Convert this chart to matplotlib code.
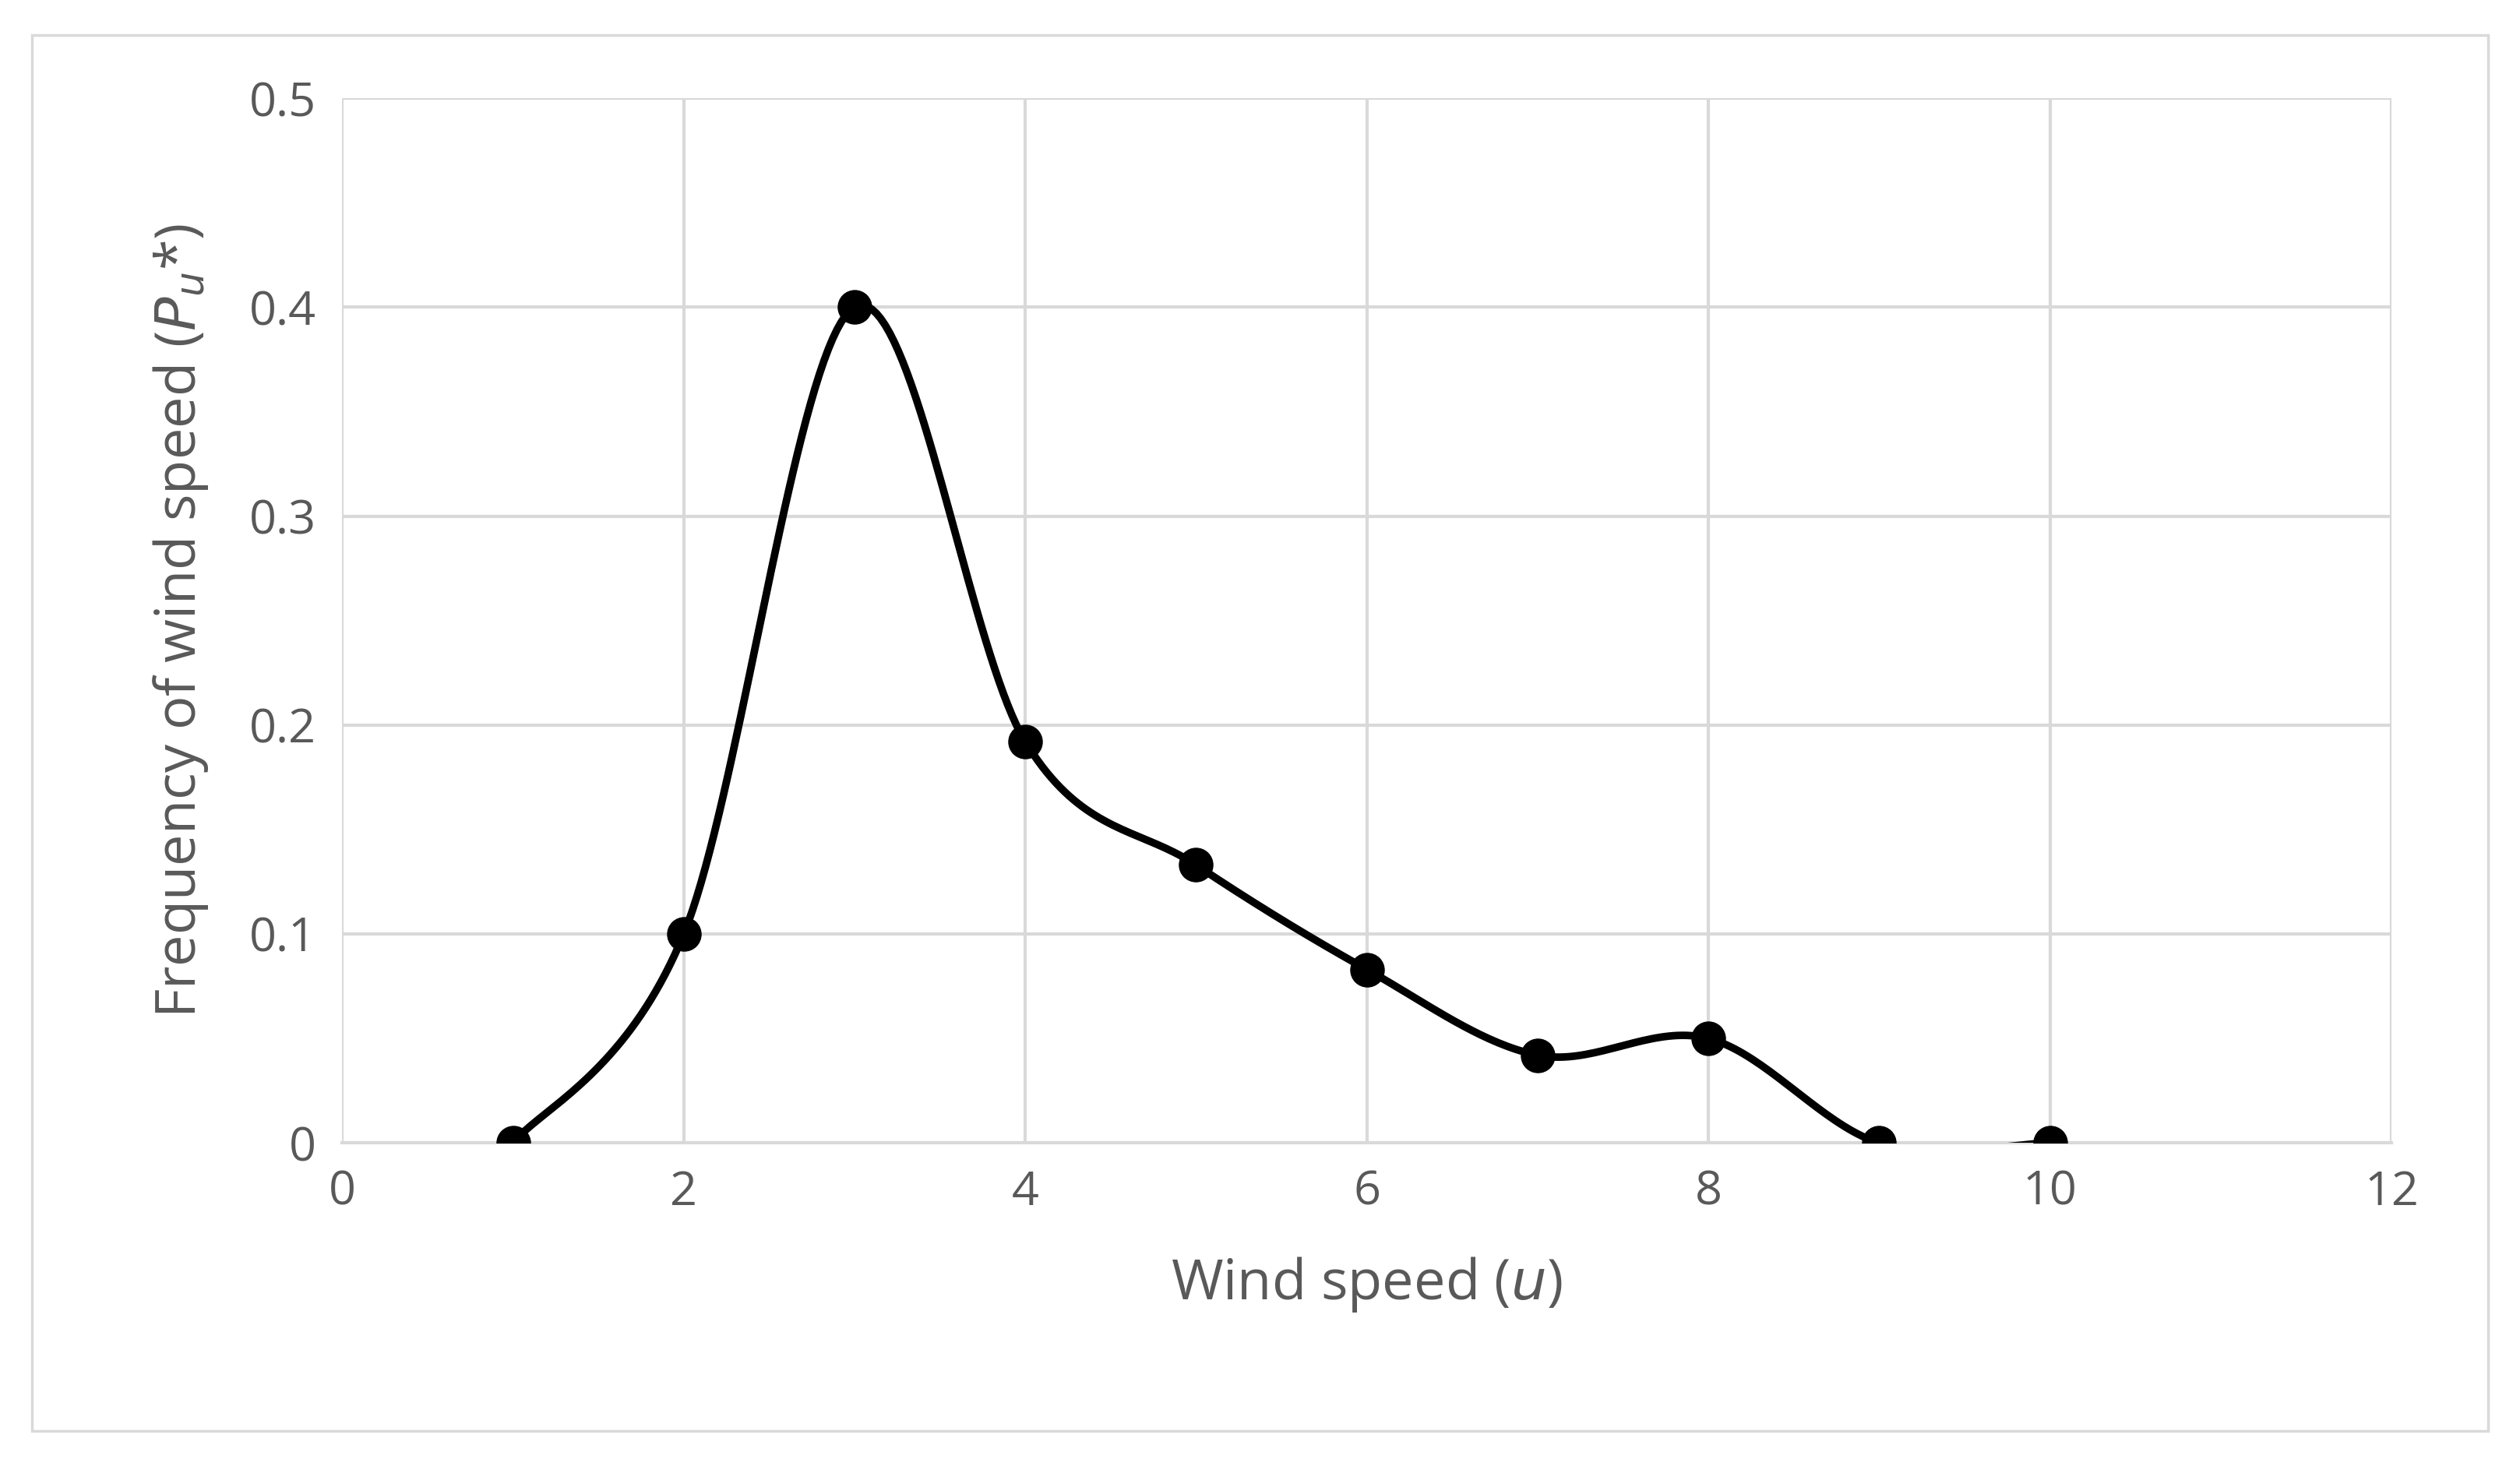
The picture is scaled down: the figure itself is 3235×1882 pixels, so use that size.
import matplotlib
matplotlib.use("Agg")
import matplotlib.pyplot as plt
import numpy as np
from matplotlib.patches import Rectangle

wind_speed = [1, 2, 3, 4, 5, 6, 7, 8, 9, 10]
frequency = [0.0, 0.1, 0.4, 0.192, 0.133, 0.083, 0.042, 0.05, 0.0, 0.0]

def smooth(x, y, n=40):
    x = np.asarray(x, float); y = np.asarray(y, float)
    px = np.concatenate([[x[0]], x, [x[-1]]]); py = np.concatenate([[y[0]], y, [y[-1]]])
    xs, ys = [], []
    t = np.linspace(0, 1, n)
    for i in range(1, len(px) - 2):
        p0 = np.array([px[i], py[i]]); p3 = np.array([px[i+1], py[i+1]])
        c1 = p0 + (np.array([px[i+1], py[i+1]]) - np.array([px[i-1], py[i-1]])) / 6
        c2 = p3 - (np.array([px[i+2], py[i+2]]) - np.array([px[i], py[i]])) / 6
        pts = ((1-t)**3)[:, None]*p0 + (3*(1-t)**2*t)[:, None]*c1 + (3*(1-t)*t**2)[:, None]*c2 + (t**3)[:, None]*p3
        xs.extend(pts[:, 0]); ys.extend(pts[:, 1])
    return xs, ys

plt.rcParams['font.family'] = ['Open Sans', 'DejaVu Sans']
gray = '#595959'
fig = plt.figure(figsize=(32.35, 18.82), dpi=100)
fig.patches.append(Rectangle((20/1568, 22/912), 1528/1568, 868/912, transform=fig.transFigure,
                             fill=False, edgecolor='#d9d9d9', linewidth=2.5))
ax = fig.add_axes([0.1358, 0.2204, 0.8132, 0.7126])
sx, sy = smooth(wind_speed, frequency)
ax.plot(sx, sy, color='black', linewidth=7, zorder=3)
ax.plot(wind_speed, frequency, 'o', color='black', markersize=31, zorder=4)
ax.set_xlim(0, 12); ax.set_ylim(0, 0.5)
ax.set_xticks(range(0, 13, 2)); ax.set_yticks([0, 0.1, 0.2, 0.3, 0.4, 0.5])
ax.set_yticklabels(['0', '0.1', '0.2', '0.3', '0.4', '0.5'])
ax.grid(True, color='#d9d9d9', linewidth=3)
ax.set_axisbelow(True)
for s in ['top', 'right', 'left']:
    ax.spines[s].set_visible(False)
ax.spines['bottom'].set_color('#d9d9d9'); ax.spines['bottom'].set_linewidth(3)
ax.tick_params(length=0, labelsize=44, labelcolor=gray, pad=24)
ax.set_xlabel('Wind speed ($\\mathit{u}$)', fontsize=52, color=gray, labelpad=36)
ax.set_ylabel('Frequency of wind speed ($\\mathit{P_u}$*)', fontsize=52, color=gray, labelpad=36)
fig.savefig('out.png', dpi=100)
